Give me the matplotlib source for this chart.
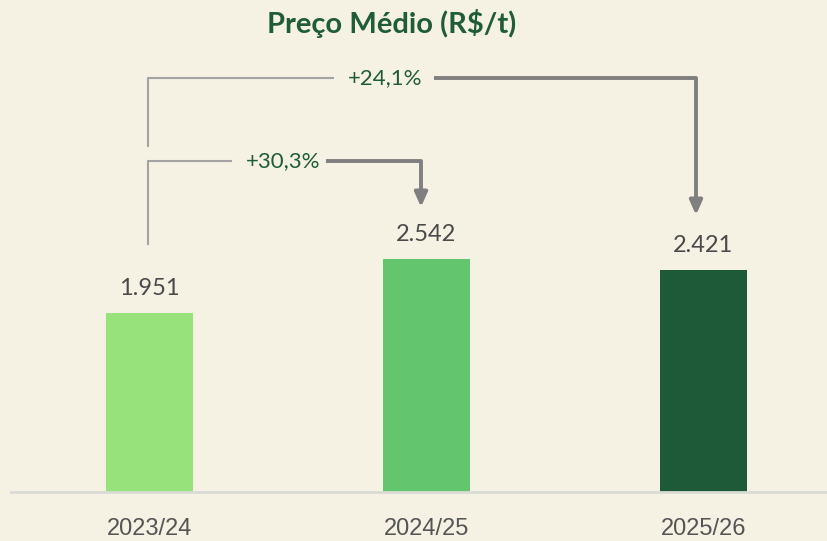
import matplotlib
matplotlib.use("Agg")
import matplotlib.pyplot as plt
from matplotlib.font_manager import fontManager

categories = ["2023/24", "2024/25", "2025/26"]
values = [1951, 2542, 2421]
value_labels = ["1.951", "2.542", "2.421"]
bar_colors = ["#98e27c", "#63c66e", "#1f5a38"]
title = "Preço Médio (R$/t)"
change_labels = ["+30,3%", "+24,1%"]

BG = "#f5f1e3"
GREEN_TXT = "#1f5c38"
names = {f.name for f in fontManager.ttflist}
narrow = "Liberation Sans Narrow" if "Liberation Sans Narrow" in names else "Liberation Sans"

fig = plt.figure(figsize=(8.28, 5.41), dpi=100, facecolor=BG)
W, H = 828, 541
base_px = 492
ax = fig.add_axes([11 / W, (H - base_px) / H, 1 - 11 / W, base_px / H])
ax.set_facecolor(BG)
px_per_unit = 0.0915
ax.set_ylim(0, base_px / px_per_unit)
x0 = 149.5
step = 277
ax.set_xlim((11 - x0) / step, (828 - x0) / step)

xs = list(range(len(categories)))
ax.bar(xs, values, width=87 / step, color=bar_colors, zorder=2)

for x, v, lab in zip(xs, values, value_labels):
    ax.text(x, v + 18 / px_per_unit, lab, ha="center", va="baseline",
            fontsize=17, color="#4a4a4a", family="Lato")

for s in ["top", "right", "left"]:
    ax.spines[s].set_visible(False)
ax.spines["bottom"].set_color("#dbdbd6")
ax.spines["bottom"].set_linewidth(2)
ax.set_yticks([])
ax.set_xticks(xs)
ax.set_xticklabels(categories, fontsize=17, color="#555555", family=narrow)
ax.tick_params(axis="x", length=0, pad=19)

def py(p):
    return (base_px - p) / px_per_unit

def pxx(p):
    return (p - x0) / step

thin = dict(color="#a3a3a3", lw=1.5, solid_capstyle="butt")
thick = dict(color="#7f7f7f", lw=2.8, solid_capstyle="butt")
head = dict(arrowstyle="-|>,head_length=0.85,head_width=0.38",
            color="#7f7f7f", lw=2.8, shrinkA=0, shrinkB=0)

# inner bracket: 2023/24 -> 2024/25
ax.plot([pxx(148), pxx(148), pxx(232)], [py(245), py(161), py(161)], **thin)
ax.plot([pxx(326), pxx(421), pxx(421)], [py(161), py(161), py(193)], **thick)
ax.annotate("", xy=(pxx(421), py(207)), xytext=(pxx(421), py(190)), arrowprops=head)
ax.text(pxx(283), py(161), change_labels[0], ha="center", va="center",
        fontsize=16, color=GREEN_TXT, family="Lato")

# outer bracket: 2023/24 -> 2025/26
ax.plot([pxx(148), pxx(148), pxx(334)], [py(147), py(78), py(78)], **thin)
ax.plot([pxx(434), pxx(696), pxx(696)], [py(78), py(78), py(200)], **thick)
ax.annotate("", xy=(pxx(696), py(215)), xytext=(pxx(696), py(198)), arrowprops=head)
ax.text(pxx(385), py(78), change_labels[1], ha="center", va="center",
        fontsize=16, color=GREEN_TXT, family="Lato")

fig.text(392 / W, 1 - 24 / H, title, ha="center", va="center",
         fontsize=21, fontweight="bold", color=GREEN_TXT, family="Lato")

fig.savefig("out.png", dpi=100, facecolor=BG)
